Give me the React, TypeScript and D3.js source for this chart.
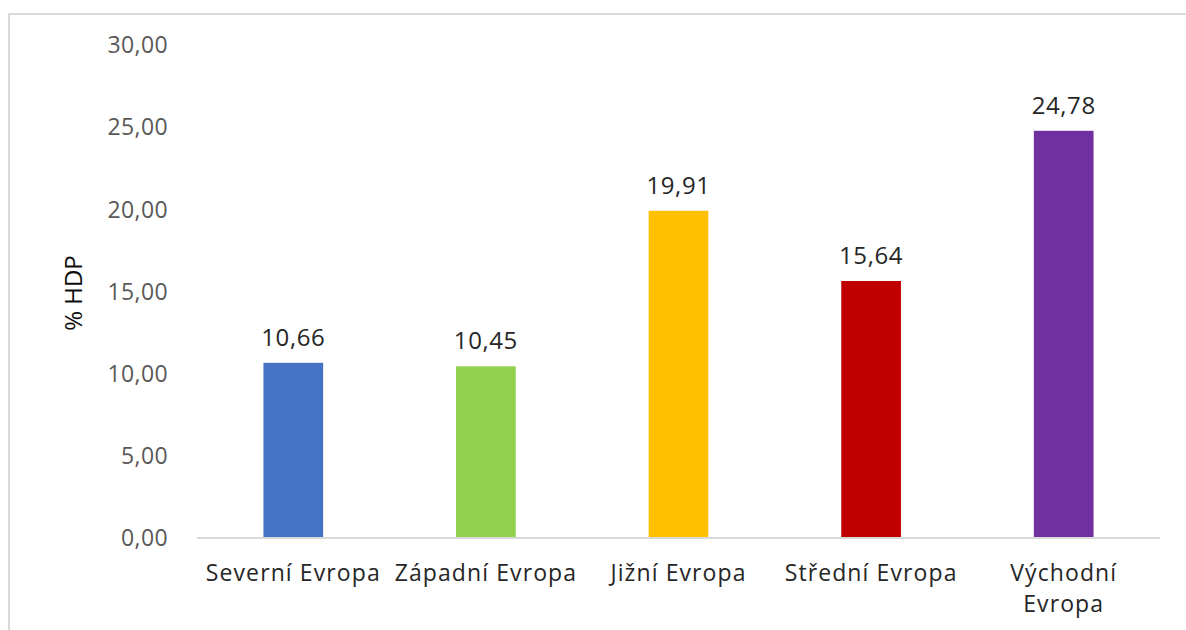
import React, { useEffect, useRef } from "react";
import * as d3 from "d3";

const categories = ["Severní Evropa", "Západní Evropa", "Jižní Evropa", "Střední Evropa", "Východní Evropa"];
const values = [10.66, 10.45, 19.91, 15.64, 24.78];
const barColors = ["#4472C4", "#92D050", "#FFC000", "#C00000", "#7030A0"];
const yTicks = [0, 5, 10, 15, 20, 25, 30];
// labels that wrap onto two lines
const labelLines = [["Severní Evropa"], ["Západní Evropa"], ["Jižní Evropa"], ["Střední Evropa"], ["Východní", "Evropa"]];

const W = 1186, H = 630;
const FONT = "'Open Sans', sans-serif";

export default function App() {
  const ref = useRef<SVGSVGElement>(null);

  useEffect(() => {
    const svg = d3.select(ref.current);
    svg.selectAll("*").remove();

    // outer chart frame (right and bottom are cut off in the picture)
    svg.append("rect")
      .attr("x", 9).attr("y", 14)
      .attr("width", W).attr("height", H)
      .attr("fill", "white")
      .attr("stroke", "#D9D9D9")
      .attr("stroke-width", 2);

    const x = d3.scaleBand().domain(categories).range([197, 1160]).padding(0);
    const y = d3.scaleLinear().domain([0, 30]).range([538, 45]);
    const barW = x.bandwidth() * 0.31;
    const fmt = (d: number) => d3.format(".2f")(d).replace(".", ",");

    // y tick labels
    svg.append("g").selectAll("text")
      .data(yTicks).enter().append("text")
      .attr("x", 168)
      .attr("y", d => y(d))
      .attr("dy", "0.36em")
      .attr("text-anchor", "end")
      .attr("font-family", FONT)
      .attr("font-size", 23)
      .attr("letter-spacing", 0.4)
      .attr("fill", "#595959")
      .text(fmt);

    // axis title
    svg.append("text")
      .attr("transform", "translate(82,293) rotate(-90)")
      .attr("text-anchor", "middle")
      .attr("font-family", FONT)
      .attr("font-size", 24)
      .attr("fill", "#0D0D0D")
      .text("% HDP");

    // bars
    svg.append("g").selectAll("rect")
      .data(values).enter().append("rect")
      .attr("x", (d, i) => x(categories[i])! + x.bandwidth() / 2 - barW / 2)
      .attr("y", d => y(d))
      .attr("width", barW)
      .attr("height", d => y(0) - y(d))
      .attr("fill", (d, i) => barColors[i]);

    // baseline
    svg.append("line")
      .attr("x1", 197).attr("x2", 1160)
      .attr("y1", y(0)).attr("y2", y(0))
      .attr("stroke", "#D9D9D9")
      .attr("stroke-width", 2);

    // data labels
    svg.append("g").selectAll("text")
      .data(values).enter().append("text")
      .attr("x", (d, i) => x(categories[i])! + x.bandwidth() / 2)
      .attr("y", d => y(d) - 17)
      .attr("text-anchor", "middle")
      .attr("font-family", FONT)
      .attr("font-size", 24)
      .attr("letter-spacing", 0.6)
      .attr("fill", "#262626")
      .text(fmt);

    // category labels
    const cat = svg.append("g").selectAll("text")
      .data(labelLines).enter().append("text")
      .attr("x", (d, i) => x(categories[i])! + x.bandwidth() / 2)
      .attr("y", 581)
      .attr("text-anchor", "middle")
      .attr("font-family", FONT)
      .attr("font-size", 23)
      .attr("letter-spacing", 1.1)
      .attr("fill", "#262626");
    cat.selectAll("tspan")
      .data(d => d).enter().append("tspan")
      .attr("x", function () { return (this.parentNode as SVGTextElement).getAttribute("x"); })
      .attr("dy", (d, i) => (i === 0 ? 0 : 31))
      .text(d => d);
  }, []);

  return (
    <svg ref={ref} width={W} height={H}
      style={{ position: "absolute", left: 0, top: 0, background: "white" }} />
  );
}
